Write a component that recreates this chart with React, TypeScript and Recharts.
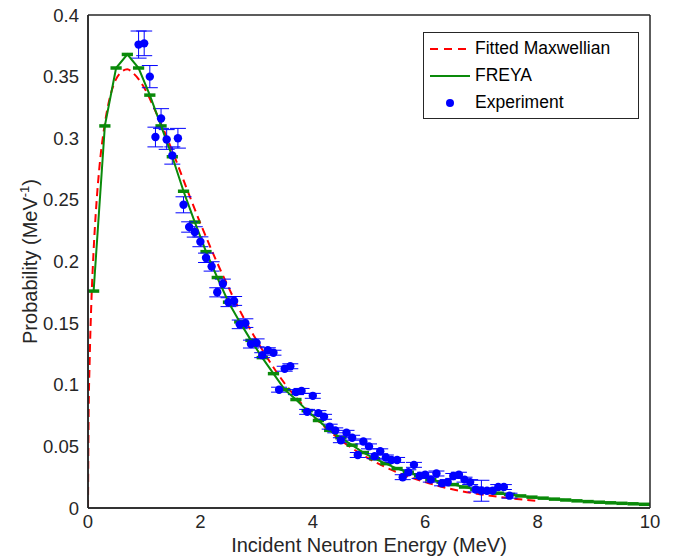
import {
    ComposedChart,
    Line,
    Scatter,
    ErrorBar,
    XAxis,
    YAxis,
    Legend
} from "recharts";

// Fitted Maxwellian (red dashed curve)
const maxwellEnergy = [0, 0.01, 0.03, 0.06, 0.1, 0.15, 0.2, 0.3, 0.4, 0.5, 0.6, 0.7, 0.8, 0.9, 1.0, 1.2, 1.4, 1.6, 1.8, 2.0, 2.25, 2.5, 2.75, 3.0, 3.5, 4.0, 4.5, 5.0, 5.5, 6.0, 6.5, 7.0, 7.5, 8.0];
const maxwellProb = [0, 0.071, 0.12, 0.167, 0.209, 0.247, 0.275, 0.312, 0.335, 0.348, 0.354, 0.356, 0.353, 0.348, 0.341, 0.322, 0.301, 0.278, 0.254, 0.231, 0.204, 0.179, 0.156, 0.136, 0.101, 0.075, 0.055, 0.04, 0.029, 0.021, 0.015, 0.011, 0.008, 0.0056];

// FREYA, 0.2 MeV bins (bin centres)
const freyaEnergy = [0.1, 0.3, 0.5, 0.7, 0.9, 1.1, 1.3, 1.5, 1.7, 1.9, 2.1, 2.3, 2.5, 2.7, 2.9, 3.1, 3.3, 3.5, 3.7, 3.9, 4.1, 4.3, 4.5, 4.7, 4.9, 5.1, 5.3, 5.5, 5.7, 5.9, 6.1, 6.3, 6.5, 6.7, 6.9, 7.1, 7.3, 7.5, 7.7, 7.9, 8.1, 8.3, 8.5, 8.7, 8.9, 9.1, 9.3, 9.5, 9.7, 9.9];
const freyaProb = [0.176, 0.31, 0.357, 0.368, 0.357, 0.335, 0.31, 0.285, 0.257, 0.232, 0.208, 0.187, 0.167, 0.151, 0.136, 0.122, 0.109, 0.096, 0.088, 0.079, 0.071, 0.063, 0.057, 0.051, 0.045, 0.04, 0.036, 0.032, 0.029, 0.026, 0.023, 0.021, 0.019, 0.017, 0.015, 0.0135, 0.012, 0.011, 0.0098, 0.0088, 0.008, 0.0072, 0.0065, 0.0058, 0.0052, 0.0047, 0.0042, 0.0038, 0.0034, 0.003];
const freyaHalfBin = 0.1;

// Experiment
const expEnergy = [0.9, 1.0, 1.1, 1.2, 1.3, 1.4, 1.5, 1.6, 1.7, 1.8, 1.9, 2.0, 2.1, 2.2, 2.3, 2.4, 2.5, 2.6, 2.7, 2.8, 2.9, 3.0, 3.1, 3.2, 3.3, 3.4, 3.5, 3.6, 3.7, 3.8, 3.9, 4.0, 4.1, 4.2, 4.3, 4.4, 4.5, 4.6, 4.7, 4.8, 4.9, 5.0, 5.1, 5.2, 5.3, 5.4, 5.5, 5.6, 5.7, 5.8, 5.9, 6.0, 6.1, 6.2, 6.3, 6.4, 6.5, 6.6, 6.7, 6.8, 6.9, 7.0, 7.1, 7.2, 7.3, 7.4, 7.5];
const expProb = [0.376, 0.377, 0.35, 0.301, 0.316, 0.299, 0.286, 0.3, 0.246, 0.228, 0.224, 0.216, 0.203, 0.196, 0.175, 0.182, 0.167, 0.168, 0.149, 0.15, 0.133, 0.134, 0.124, 0.128, 0.126, 0.096, 0.113, 0.115, 0.094, 0.095, 0.078, 0.091, 0.077, 0.074, 0.066, 0.063, 0.055, 0.061, 0.057, 0.043, 0.054, 0.05, 0.042, 0.046, 0.041, 0.039, 0.039, 0.025, 0.029, 0.035, 0.026, 0.027, 0.023, 0.028, 0.02, 0.021, 0.026, 0.027, 0.023, 0.021, 0.015, 0.014, 0.014, 0.014, 0.017, 0.017, 0.01];
const expErr = [0.011, 0.01, 0.009, 0.008, 0.008, 0.008, 0.007, 0.008, 0.0065, 0.0042, 0.0042, 0.004, 0.0038, 0.0038, 0.0037, 0.0037, 0.0036, 0.0036, 0.0035, 0.0035, 0.0032, 0.0032, 0.002, 0.002, 0.002, 0.002, 0.002, 0.002, 0.002, 0.002, 0.002, 0.002, 0.002, 0.002, 0.002, 0.002, 0.002, 0.002, 0.002, 0.002, 0.002, 0.002, 0.002, 0.002, 0.002, 0.002, 0.002, 0.002, 0.002, 0.002, 0.002, 0.002, 0.002, 0.002, 0.002, 0.002, 0.002, 0.002, 0.002, 0.002, 0.002, 0.0085, 0.002, 0.002, 0.002, 0.002, 0.002];

const xTicks = [0, 2, 4, 6, 8, 10];
const yTicks = [0, 0.05, 0.1, 0.15, 0.2, 0.25, 0.3, 0.35, 0.4];

const maxwellData = maxwellEnergy.map((x, i) => ({ x, y: maxwellProb[i] }));
const freyaData = freyaEnergy.map((x, i) => ({ x, y: freyaProb[i], xerr: freyaHalfBin }));
const expData = expEnergy.map((x, i) => ({ x, y: expProb[i], err: expErr[i] }));

const FONT = "'Liberation Sans', Arial, Helvetica, sans-serif";
const INK = "#262626";
const RED = "#ff0000";
const GREEN = "#0a8a0a";
const BLUE = "#0000ff";

const tickStyle = { fontSize: 18.5, fill: INK, fontFamily: FONT };

function YLabel(props: any) {
    const vb = props.viewBox || {};
    const cy = vb.y + vb.height / 2;
    return (
        <text
            transform={`translate(37, ${cy}) rotate(-90)`}
            textAnchor="middle"
            fontSize={20}
            fill={INK}
            fontFamily={FONT}
        >
            <tspan>Probability (MeV</tspan>
            <tspan dy={-8} fontSize={13}>-1</tspan>
            <tspan dy={8}>)</tspan>
        </text>
    );
}

function LegendBox() {
    const row = { display: "flex", alignItems: "center", height: 27 } as const;
    return (
        <div
            style={{
                width: 216,
                height: 87,
                border: `1.5px solid ${INK}`,
                background: "white",
                fontFamily: FONT,
                fontSize: 17.5,
                color: "#000",
                paddingTop: 2,
                boxSizing: "border-box"
            }}
        >
            <div style={row}>
                <svg width={46} height={10} style={{ marginLeft: 5 }}>
                    <line x1={1} y1={5} x2={41} y2={5} stroke={RED} strokeWidth={2} strokeDasharray="8 6" />
                </svg>
                <span>Fitted Maxwellian</span>
            </div>
            <div style={row}>
                <svg width={46} height={10} style={{ marginLeft: 5 }}>
                    <line x1={1} y1={5} x2={41} y2={5} stroke={GREEN} strokeWidth={2} />
                </svg>
                <span>FREYA</span>
            </div>
            <div style={row}>
                <svg width={46} height={10} style={{ marginLeft: 5 }}>
                    <circle cx={21} cy={5} r={4} fill={BLUE} />
                </svg>
                <span>Experiment</span>
            </div>
        </div>
    );
}

export default function App() {
    return (
        <div style={{ position: "absolute", left: 0, top: 0 }}>
            <ComposedChart
                width={675}
                height={556}
                margin={{ top: 15, right: 25, bottom: 0, left: 0 }}
            >
                {/* labelled axes */}
                <XAxis
                    dataKey="x"
                    type="number"
                    domain={[0, 10]}
                    ticks={xTicks}
                    allowDataOverflow
                    height={48}
                    stroke={INK}
                    strokeWidth={1.5}
                    tickLine={false}
                    tickSize={0}
                    tickMargin={7}
                    tick={tickStyle}
                    label={{
                        value: "Incident Neutron Energy (MeV)",
                        position: "insideBottom",
                        offset: 4,
                        style: { fontSize: 20, fill: INK, fontFamily: FONT }
                    }}
                />
                <YAxis
                    type="number"
                    domain={[0, 0.4]}
                    ticks={yTicks}
                    allowDataOverflow
                    width={88}
                    stroke={INK}
                    strokeWidth={1.5}
                    tickLine={false}
                    tickSize={0}
                    tickMargin={9}
                    tick={tickStyle}
                    label={{ content: YLabel }}
                />

                {/* box with inward ticks on all four sides */}
                <XAxis
                    xAxisId="bottomTicks"
                    orientation="bottom"
                    mirror
                    type="number"
                    domain={[0, 10]}
                    ticks={xTicks}
                    allowDataOverflow
                    height={10}
                    stroke={INK}
                    strokeWidth={1.5}
                    tickSize={6}
                    tick={false}
                />
                <XAxis
                    xAxisId="top"
                    orientation="top"
                    mirror
                    type="number"
                    domain={[0, 10]}
                    ticks={xTicks}
                    allowDataOverflow
                    height={10}
                    stroke={INK}
                    strokeWidth={1.5}
                    tickSize={6}
                    tick={false}
                />
                <YAxis
                    yAxisId="leftTicks"
                    orientation="left"
                    mirror
                    type="number"
                    domain={[0, 0.4]}
                    ticks={yTicks}
                    allowDataOverflow
                    width={10}
                    stroke={INK}
                    strokeWidth={1.5}
                    tickSize={6}
                    tick={false}
                />
                <YAxis
                    yAxisId="right"
                    orientation="right"
                    mirror
                    type="number"
                    domain={[0, 0.4]}
                    ticks={yTicks}
                    allowDataOverflow
                    width={10}
                    stroke={INK}
                    strokeWidth={1.5}
                    tickSize={6}
                    tick={false}
                />

                <Line
                    data={maxwellData}
                    dataKey="y"
                    type="monotone"
                    stroke={RED}
                    strokeWidth={2}
                    strokeDasharray="8 5"
                    dot={false}
                    isAnimationActive={false}
                />

                <Scatter
                    data={freyaData}
                    dataKey="y"
                    line={{ stroke: GREEN, strokeWidth: 2 }}
                    lineType="joint"
                    shape={() => <g />}
                    isAnimationActive={false}
                >
                    <ErrorBar dataKey="xerr" direction="x" stroke={GREEN} strokeWidth={3.5} width={0} />
                </Scatter>

                <Scatter
                    data={expData}
                    dataKey="y"
                    shape={(p: any) => <circle cx={p.cx} cy={p.cy} r={4.2} fill={BLUE} />}
                    isAnimationActive={false}
                >
                    <ErrorBar dataKey="err" direction="y" stroke={BLUE} strokeWidth={1} width={8} />
                </Scatter>

                <Legend
                    layout="vertical"
                    align="center"
                    verticalAlign="middle"
                    content={() => <LegendBox />}
                    wrapperStyle={{ left: 423, top: 32, width: 216, height: 87 }}
                />
            </ComposedChart>
        </div>
    );
}
